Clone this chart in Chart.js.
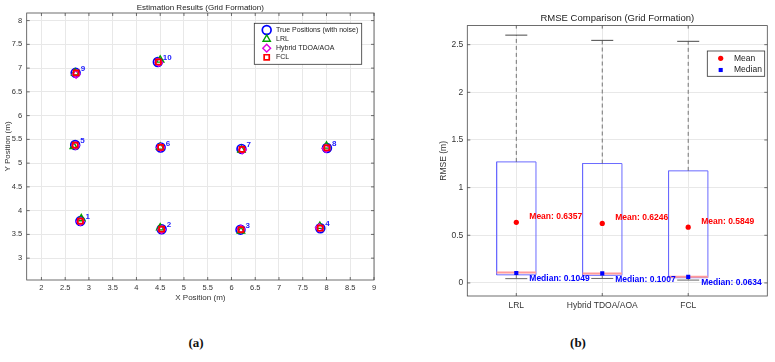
<!DOCTYPE html>
<html>
<head>
<meta charset="utf-8">
<script src="https://cdn.jsdelivr.net/npm/chart.js@4.4.1/dist/chart.umd.min.js"></script>
<style>
  body { margin: 0; background: #fff; width: 775px; height: 362px; position: relative; overflow: hidden; }
  canvas { position: absolute; top: 0; }
  #left { left: 0; }
  #right { left: 390px; }
  .cap { position: absolute; top: 335px; font: bold 13px "Liberation Serif", serif; transform: translateX(-50%); color: #111; }
</style>
</head>
<body>
<canvas id="left" width="385" height="305"></canvas>
<canvas id="right" width="385" height="320"></canvas>
<div class="cap" style="left:196px">(a)</div>
<div class="cap" style="left:578px">(b)</div>
<script>
// ---- (a) estimated positions, grid formation ----
const trueX = [2.82, 4.53, 6.19, 7.87, 2.71, 4.51, 6.21, 8.01, 2.72, 4.45];
const trueY = [3.78, 3.61, 3.60, 3.63, 5.38, 5.33, 5.30, 5.32, 6.90, 7.13];
const lrlX  = [2.84, 4.50, 6.20, 7.86, 2.68, 4.50, 6.21, 8.00, 2.71, 4.50];
const lrlY  = [3.83, 3.64, 3.57, 3.67, 5.35, 5.34, 5.28, 5.36, 6.90, 7.17];
const hybX  = [2.82, 4.53, 6.20, 7.85, 2.72, 4.51, 6.23, 7.99, 2.73, 4.47];
const hybY  = [3.77, 3.60, 3.61, 3.64, 5.37, 5.33, 5.28, 5.31, 6.87, 7.12];
const fclX  = [2.82, 4.53, 6.20, 7.87, 2.71, 4.51, 6.22, 8.01, 2.73, 4.46];
const fclY  = [3.78, 3.61, 3.60, 3.63, 5.38, 5.33, 5.29, 5.32, 6.90, 7.13];
const nodeIds = ['1', '2', '3', '4', '5', '6', '7', '8', '9', '10'];
const xTicksA = [2, 2.5, 3, 3.5, 4, 4.5, 5, 5.5, 6, 6.5, 7, 7.5, 8, 8.5, 9];
const yTicksA = [3, 3.5, 4, 4.5, 5, 5.5, 6, 6.5, 7, 7.5, 8];

// ---- (b) RMSE box plot ----
const methods = ['LRL', 'Hybrid TDOA/AOA', 'FCL'];
const rmseMean = [0.6357, 0.6246, 0.5849];
const rmseMedian = [0.1049, 0.1007, 0.0634];
const boxQ1 = [0.085, 0.080, 0.055];
const boxMid = [0.110, 0.100, 0.066];
const boxQ3 = [1.270, 1.253, 1.176];
const whiskLo = [0.045, 0.047, 0.030];
const whiskHi = [2.600, 2.545, 2.535];
const yTicksB = [0, 0.5, 1, 1.5, 2, 2.5];

Chart.defaults.font.family = '"Liberation Sans", Arial, sans-serif';
Chart.defaults.color = '#333';

const pts = (xs, ys) => xs.map((x, i) => ({x: x, y: ys[i]}));
const setTicks = list => scale => { scale.ticks = list.map(v => ({value: v})); };
const plain = v => String(v);

const framePlugin = {
  id: 'frame',
  afterDatasetsDraw(chart) {
    const {ctx, chartArea: a, scales} = chart;
    ctx.save();
    ctx.strokeStyle = '#4a4a4a';
    ctx.lineWidth = 0.8;
    ctx.strokeRect(a.left, a.top, a.right - a.left, a.bottom - a.top);
    ctx.beginPath();
    scales.x.ticks.forEach(t => {
      const p = scales.x.getPixelForValue(t.value);
      ctx.moveTo(p, a.bottom); ctx.lineTo(p, a.bottom - 3);
      ctx.moveTo(p, a.top); ctx.lineTo(p, a.top + 3);
    });
    scales.y.ticks.forEach(t => {
      const p = scales.y.getPixelForValue(t.value);
      ctx.moveTo(a.left, p); ctx.lineTo(a.left + 3, p);
      ctx.moveTo(a.right, p); ctx.lineTo(a.right - 3, p);
    });
    ctx.stroke();
    ctx.restore();
  }
};

const boxLegend = {
  id: 'boxLegend',
  afterDraw(chart, args, o) {
    const ctx = chart.ctx;
    ctx.save();
    ctx.fillStyle = '#fff';
    ctx.fillRect(o.x, o.y, o.w, o.h);
    ctx.strokeStyle = '#333';
    ctx.lineWidth = 0.8;
    ctx.strokeRect(o.x, o.y, o.w, o.h);
    ctx.font = o.fontStr;
    ctx.textBaseline = 'middle';
    ctx.textAlign = 'left';
    chart.data.datasets.filter(d => d.inLegend).forEach((d, i) => {
      const y = o.y + o.first + i * o.step;
      ctx.strokeStyle = d.borderColor;
      ctx.fillStyle = d.backgroundColor;
      ctx.lineWidth = d.borderWidth;
      Chart.helpers.drawPoint(ctx, {pointStyle: d.pointStyle, radius: d.pointRadius, borderWidth: d.borderWidth, rotation: 0}, o.symX, y);
      ctx.fillStyle = '#222';
      ctx.fillText(d.label, o.textX, y);
    });
    ctx.restore();
  }
};

const nodeLabels = {
  id: 'nodeLabels',
  afterDatasetsDraw(chart) {
    const {ctx, scales: {x, y}} = chart;
    ctx.save();
    ctx.font = 'bold 8px "Liberation Sans", Arial, sans-serif';
    ctx.fillStyle = '#1a1aff';
    ctx.textBaseline = 'middle';
    ctx.textAlign = 'left';
    nodeIds.forEach((id, i) => {
      ctx.fillText(id, x.getPixelForValue(trueX[i]) + 5, y.getPixelForValue(trueY[i]) - 4);
    });
    ctx.restore();
  }
};

const statLabels = {
  id: 'statLabels',
  afterDatasetsDraw(chart) {
    const {ctx, scales: {x, y}} = chart;
    ctx.save();
    ctx.font = 'bold 8.5px "Liberation Sans", Arial, sans-serif';
    ctx.textBaseline = 'middle';
    ctx.textAlign = 'left';
    methods.forEach((m, i) => {
      const px = x.getPixelForValue(i + 1) + 13;
      ctx.fillStyle = '#ff0000';
      ctx.fillText('Mean: ' + rmseMean[i].toFixed(4), px, y.getPixelForValue(rmseMean[i]) - 5.5);
      ctx.fillStyle = '#0000ff';
      ctx.fillText('Median: ' + rmseMedian[i].toFixed(4), px, y.getPixelForValue(rmseMedian[i]) + 6);
    });
    ctx.restore();
  }
};

const none = 'rgba(0,0,0,0)';

new Chart(document.getElementById('left'), {
  type: 'scatter',
  data: {
    datasets: [
      {label: 'True Positions (with noise)', data: pts(trueX, trueY), inLegend: true, order: 4,
       pointStyle: 'circle', pointRadius: 4.4, borderColor: '#0000ff', backgroundColor: none, borderWidth: 1.7},
      {label: 'LRL', data: pts(lrlX, lrlY), inLegend: true, order: 3,
       pointStyle: 'triangle', pointRadius: 4.2, borderColor: '#00a000', backgroundColor: none, borderWidth: 1.4},
      {label: 'Hybrid TDOA/AOA', data: pts(hybX, hybY), inLegend: true, order: 2,
       pointStyle: 'rectRot', pointRadius: 3.9, borderColor: '#e000e0', backgroundColor: none, borderWidth: 1.4},
      {label: 'FCL', data: pts(fclX, fclY), inLegend: true, order: 1,
       pointStyle: 'rect', pointRadius: 3.6, borderColor: '#ff0000', backgroundColor: none, borderWidth: 1.7}
    ]
  },
  options: {
    responsive: false,
    animation: false,
    devicePixelRatio: 1,
    events: [],
    layout: {padding: {left: 0, right: 11, top: 0, bottom: 0}},
    plugins: {
      legend: {display: false},
      tooltip: {enabled: false},
      title: {display: true, fullSize: false, text: 'Estimation Results (Grid Formation)', color: '#222',
              font: {size: 8, weight: 'normal'}, padding: {top: 2.5, bottom: 0.9}},
      boxLegend: {x: 254.3, y: 23.3, w: 107.4, h: 41, first: 6.7, step: 9.1, symX: 266.7, textX: 276,
                  fontStr: '7px "Liberation Sans", Arial, sans-serif'}
    },
    scales: {
      x: {
        type: 'linear', min: 1.69, max: 9.0,
        afterBuildTicks: setTicks(xTicksA),
        afterFit: s => { s.height = 25; },
        grid: {color: '#e8e8e8', drawTicks: false},
        border: {display: false},
        ticks: {font: {size: 7.5}, padding: 3, maxRotation: 0, autoSkip: false, callback: plain},
        title: {display: true, text: 'X Position (m)', font: {size: 8}, padding: {top: 0, bottom: 2.8}}
      },
      y: {
        type: 'linear', min: 2.54, max: 8.16,
        afterBuildTicks: setTicks(yTicksA),
        afterFit: s => { s.width = 26.7; },
        grid: {color: '#e8e8e8', drawTicks: false},
        border: {display: false},
        ticks: {font: {size: 7.5}, padding: 4.5, autoSkip: false, callback: plain},
        title: {display: true, text: 'Y Position (m)', font: {size: 8}, padding: {top: 2.5, bottom: 0}}
      }
    }
  },
  plugins: [framePlugin, nodeLabels, boxLegend]
});

// box plot pieces, built from the arrays above
const boxHalf = 0.229, capHalf = 0.128;
const boxSets = [];
methods.forEach((m, i) => {
  const c = i + 1;
  const line = (data, color, width, dash) => ({
    data: data, showLine: true, pointRadius: 0, borderColor: color, backgroundColor: none,
    borderWidth: width, borderDash: dash || [], inLegend: false, order: 5
  });
  boxSets.push(line([{x: c, y: boxQ3[i]}, {x: c, y: whiskHi[i]}], '#555', 0.8, [4, 3]));
  boxSets.push(line([{x: c, y: boxQ1[i]}, {x: c, y: whiskLo[i]}], '#555', 0.8, [4, 3]));
  boxSets.push(line([{x: c - capHalf, y: whiskHi[i]}, {x: c + capHalf, y: whiskHi[i]}], '#333', 0.9));
  boxSets.push(line([{x: c - capHalf, y: whiskLo[i]}, {x: c + capHalf, y: whiskLo[i]}], '#666', 1));
  boxSets.push(line([{x: c - boxHalf, y: boxMid[i]}, {x: c + boxHalf, y: boxMid[i]}], '#ff9a9a', 2));
  boxSets.push(line([
    {x: c - boxHalf, y: boxQ1[i]}, {x: c + boxHalf, y: boxQ1[i]}, {x: c + boxHalf, y: boxQ3[i]},
    {x: c - boxHalf, y: boxQ3[i]}, {x: c - boxHalf, y: boxQ1[i]}
  ], '#6a6aff', 1));
});

new Chart(document.getElementById('right'), {
  type: 'scatter',
  data: {
    datasets: [
      {label: 'Mean', data: rmseMean.map((v, i) => ({x: i + 1, y: v})), inLegend: true, order: 1,
       pointStyle: 'circle', pointRadius: 2.6, borderColor: '#ff0000', backgroundColor: '#ff0000', borderWidth: 0},
      {label: 'Median', data: rmseMedian.map((v, i) => ({x: i + 1, y: v})), inLegend: true, order: 1,
       pointStyle: 'rect', pointRadius: 2.9, borderColor: '#0000ff', backgroundColor: '#0000ff', borderWidth: 0}
    ].concat(boxSets)
  },
  options: {
    responsive: false,
    animation: false,
    devicePixelRatio: 1,
    events: [],
    layout: {padding: {left: 0, right: 7.7, top: 0, bottom: 0}},
    plugins: {
      legend: {display: false},
      tooltip: {enabled: false},
      title: {display: true, fullSize: false, text: 'RMSE Comparison (Grid Formation)', color: '#222',
              font: {size: 9.5, weight: 'normal'}, padding: {top: 13, bottom: 1.2}},
      boxLegend: {x: 317.3, y: 51, w: 57.4, h: 25.3, first: 7.3, step: 11.7, symX: 330.7, textX: 344,
                  fontStr: '8.5px "Liberation Sans", Arial, sans-serif'}
    },
    scales: {
      x: {
        type: 'linear', min: 0.43, max: 3.92,
        afterBuildTicks: setTicks([1, 2, 3]),
        afterFit: s => { s.height = 24; },
        grid: {color: '#e8e8e8', drawTicks: false},
        border: {display: false},
        ticks: {font: {size: 8.5}, padding: 5, maxRotation: 0, autoSkip: false,
                callback: v => methods[v - 1]}
      },
      y: {
        type: 'linear', min: -0.137, max: 2.70,
        afterBuildTicks: setTicks(yTicksB),
        afterFit: s => { s.width = 77.3; },
        grid: {color: '#e8e8e8', drawTicks: false},
        border: {display: false},
        ticks: {font: {size: 8.5}, padding: 4, autoSkip: false, callback: plain},
        title: {display: true, text: 'RMSE (m)', font: {size: 8.5}, padding: {top: 48.8, bottom: 0}}
      }
    }
  },
  plugins: [framePlugin, statLabels, boxLegend]
});
</script>
</body>
</html>
